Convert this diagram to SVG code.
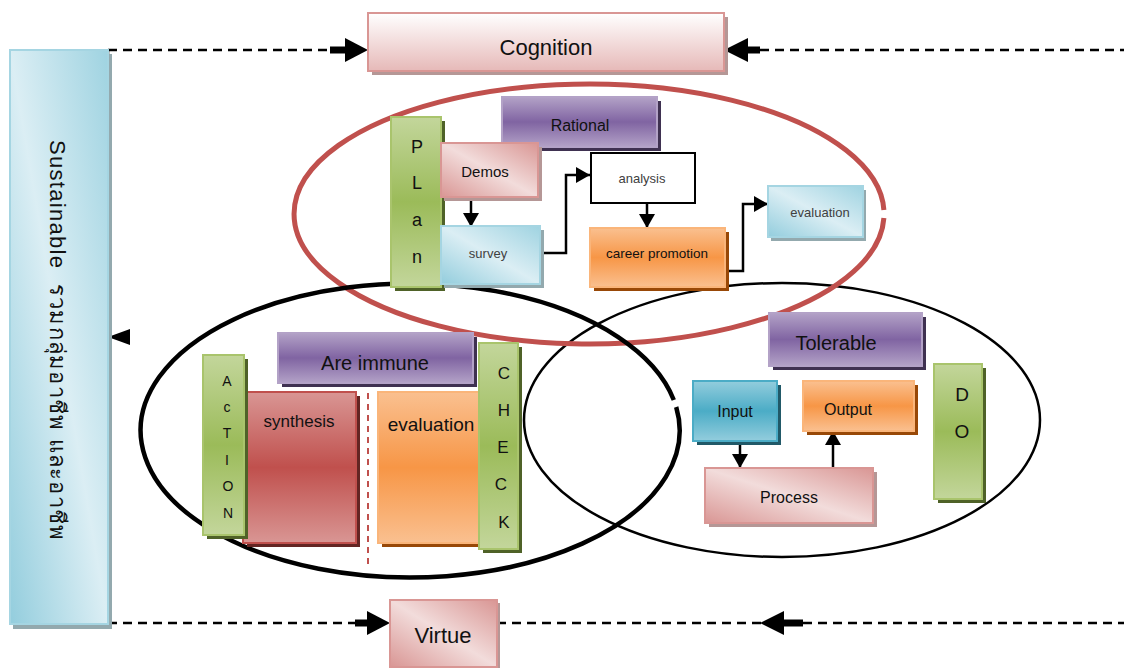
<svg xmlns="http://www.w3.org/2000/svg" width="1124" height="668" viewBox="0 0 1124 668">
<defs>
  <linearGradient id="gGreen" x1="0" y1="0" x2="0" y2="1">
    <stop offset="0" stop-color="#c3d69b"/><stop offset="0.5" stop-color="#9bbb59"/><stop offset="1" stop-color="#c3d69b"/>
  </linearGradient>
  <linearGradient id="gPurple" x1="0" y1="0" x2="0" y2="1">
    <stop offset="0" stop-color="#b3a2c7"/><stop offset="0.5" stop-color="#8064a2"/><stop offset="1" stop-color="#b3a2c7"/>
  </linearGradient>
  <linearGradient id="gOrange" x1="0" y1="0" x2="0" y2="1">
    <stop offset="0" stop-color="#fac090"/><stop offset="0.5" stop-color="#f79646"/><stop offset="1" stop-color="#fac090"/>
  </linearGradient>
  <linearGradient id="gRed" x1="0" y1="0" x2="0" y2="1">
    <stop offset="0" stop-color="#d99694"/><stop offset="0.5" stop-color="#c0504d"/><stop offset="1" stop-color="#d99694"/>
  </linearGradient>
  <linearGradient id="gBlue" x1="0" y1="0" x2="0" y2="1">
    <stop offset="0" stop-color="#93cddd"/><stop offset="0.5" stop-color="#4bacc6"/><stop offset="1" stop-color="#93cddd"/>
  </linearGradient>
  <linearGradient id="gLBlue" x1="0" y1="1" x2="1" y2="0">
    <stop offset="0" stop-color="#93cddd"/><stop offset="0.5" stop-color="#dbeef4"/><stop offset="1" stop-color="#9fd3e1"/>
  </linearGradient>
  <linearGradient id="gPink" x1="0" y1="1" x2="1" y2="0">
    <stop offset="0" stop-color="#d99694"/><stop offset="0.5" stop-color="#f2dcdb"/><stop offset="1" stop-color="#d99694"/>
  </linearGradient>
  <linearGradient id="gCog" x1="0" y1="0" x2="0" y2="1">
    <stop offset="0" stop-color="#ffffff"/><stop offset="1" stop-color="#e6b9b8"/>
  </linearGradient>
  <marker id="ah" markerUnits="userSpaceOnUse" markerWidth="16" markerHeight="16" refX="14" refY="8" orient="auto">
    <path d="M0,0 L14,8 L0,16 z" fill="#000"/>
  </marker>
</defs>
<style>
  text{font-family:"Liberation Sans","Noto Sans","DejaVu Sans",sans-serif;fill:#111;text-anchor:middle;dominant-baseline:central}
  .dash{stroke:#000;stroke-width:2.5;stroke-dasharray:9 6;fill:none}
  .shaft{stroke:#000;stroke-width:7;fill:none}
  .conn{stroke:#000;stroke-width:2.5;fill:none;marker-end:url(#ah)}
  .green{fill:url(#gGreen);stroke:#a9c46c;stroke-width:2}
  .purple{fill:url(#gPurple);stroke:#b3a2c7;stroke-width:2}
  .orange{fill:url(#gOrange);stroke:#fab57a;stroke-width:2}
  .red{fill:url(#gRed);stroke:#c0504d;stroke-width:2}
  .blue{fill:url(#gBlue);stroke:#4bacc6;stroke-width:2}
  .lblue{fill:url(#gLBlue);stroke:#a5d5e2;stroke-width:2}
  .pink{fill:url(#gPink);stroke:#d99694;stroke-width:2}
  .cog{fill:url(#gCog);stroke:#d99694;stroke-width:2}
  .sh-green{fill:#4f6228}
  .sh-purple{fill:#3f3151}
  .sh-orange{fill:#984807}
  .sh-red{fill:#632523}
  .sh-blue{fill:#215968}
  .sh-grey{fill:#93a9ae}
  .sh-pink{fill:#b59796}
  .grey{fill:#404040}
</style>

<!-- ellipses -->
<g id="circles">
  <ellipse cx="782" cy="420" rx="258" ry="137" fill="none" stroke="#000" stroke-width="2.5"/>
  <path d="M883.9,218 A295 130 0 1 1 883.9,210" fill="none" stroke="#c0504d" stroke-width="5"/>
  <path d="M676.2,407 A269.5 147 0 1 1 673.8,400" fill="none" stroke="#000" stroke-width="4.5"/>
</g>

<!-- connectors -->
<g id="connectors">
  <path class="dash" d="M108,50 H330"/>
  <path class="shaft" d="M330,50 H347"/>
  <polygon points="345,38 368,50 345,62" fill="#000"/>
  <path class="dash" d="M760,50 H1124"/>
  <path class="shaft" d="M746,50 H760"/>
  <polygon points="724,50 748,38 748,62" fill="#000"/>
  <path class="dash" d="M108,50 V623"/>
  <polygon points="108,337 130,329 130,345" fill="#000"/>
  <path class="dash" d="M108,623 H355"/>
  <path class="shaft" d="M355,623 H369"/>
  <polygon points="367,611 390,623 367,635" fill="#000"/>
  <path class="dash" d="M497,623 H762"/>
  <path class="shaft" d="M782,623 H803"/>
  <polygon points="760,623 784,611 784,635" fill="#000"/>
  <path class="dash" d="M803,623 H1124"/>

  <path class="conn" d="M471,197 V227"/>
  <path class="conn" d="M540,253 H566 V175 H590"/>
  <path class="conn" d="M647,203 V228"/>
  <path class="conn" d="M725,271 H743 V204 H768"/>
  <path class="conn" d="M740,441 V468"/>
  <path class="conn" d="M833,468 V431"/>
  <path d="M368,393 V566" stroke="#c0504d" stroke-width="2" stroke-dasharray="6 5" fill="none"/>
</g>

<g id="sustainable">
  <rect class="sh-grey" x="13" y="54" width="99" height="575"/>
  <rect class="lblue" x="10" y="50" width="98" height="574"/>
  <text transform="translate(58,0) rotate(90)" font-size="22" style="text-anchor:start"><tspan x="140" y="0" textLength="128">Sustainable</tspan><tspan x="284" y="0" textLength="256">รวมกลุ่มอาชีพ และอาชีพ</tspan></text>
</g>

<g id="cognition">
  <rect class="sh-pink" x="372" y="17" width="356" height="58"/>
  <rect class="cog" x="368" y="13" width="356" height="58"/>
  <text x="546" y="47" font-size="22">Cognition</text>
</g>

<g id="virtue">
  <rect class="sh-pink" x="393" y="603" width="107" height="67"/>
  <rect class="pink" x="390" y="600" width="107" height="67"/>
  <text x="443" y="635" font-size="22">Virtue</text>
</g>

<!-- PLAN -->
<g id="rational">
  <rect class="sh-purple" x="506" y="101" width="155" height="50"/>
  <rect class="purple" x="502" y="97" width="155" height="50"/>
  <text x="580" y="125" font-size="16">Rational</text>
</g>
<g id="plan">
  <rect class="sh-green" x="395" y="121" width="50" height="170"/>
  <rect class="green" x="391" y="117" width="50" height="170"/>
  <text x="417" y="147" font-size="18">P</text>
  <text x="417" y="183" font-size="18">L</text>
  <text x="417" y="220" font-size="18">a</text>
  <text x="417" y="257" font-size="18">n</text>
</g>
<g id="demos">
  <rect class="sh-pink" x="444" y="147" width="98" height="54"/>
  <rect class="pink" x="441" y="143" width="97" height="54"/>
  <text x="485" y="171" font-size="15">Demos</text>
</g>
<g id="survey">
  <rect class="sh-grey" x="444" y="230" width="100" height="58"/>
  <rect class="lblue" x="441" y="226" width="99" height="58"/>
  <text class="grey" x="488" y="253" font-size="13">survey</text>
</g>
<g id="analysis">
  <rect x="591" y="153" width="104" height="50" fill="#fff" stroke="#000" stroke-width="2"/>
  <text class="grey" x="642" y="178" font-size="13">analysis</text>
</g>
<g id="career">
  <rect class="sh-orange" x="594" y="232" width="135" height="59"/>
  <rect class="orange" x="590" y="228" width="135" height="59"/>
  <text x="657" y="253" font-size="13.5">career  promotion</text>
</g>
<g id="evaluation1">
  <rect class="sh-grey" x="771" y="190" width="95" height="51"/>
  <rect class="lblue" x="768" y="186" width="95" height="51"/>
  <text class="grey" x="820" y="212" font-size="13">evaluation</text>
</g>

<!-- ACTION / CHECK -->
<g id="areimmune">
  <rect class="sh-purple" x="282" y="337" width="195" height="50"/>
  <rect class="purple" x="278" y="333" width="195" height="50"/>
  <text x="375" y="363" font-size="20">Are immune</text>
</g>
<g id="synthesis">
  <rect class="sh-red" x="247" y="396" width="113" height="151"/>
  <rect class="red" x="243" y="392" width="113" height="151"/>
  <text x="299" y="421" font-size="17">synthesis</text>
</g>
<g id="action">
  <rect class="sh-green" x="207" y="359" width="41" height="180"/>
  <rect class="green" x="203" y="355" width="41" height="180"/>
  <text x="227" y="381" font-size="14">A</text>
  <text x="227" y="407" font-size="14">c</text>
  <text x="227" y="433" font-size="14">T</text>
  <text x="227" y="460" font-size="14">I</text>
  <text x="228" y="486" font-size="14">O</text>
  <text x="228" y="513" font-size="14">N</text>
</g>
<g id="evaluation2">
  <rect class="sh-orange" x="382" y="396" width="102" height="151"/>
  <rect class="orange" x="378" y="392" width="102" height="151"/>
  <text x="431" y="424" font-size="19">evaluation</text>
</g>
<g id="check">
  <rect class="sh-green" x="483" y="347" width="39" height="206"/>
  <rect class="green" x="479" y="343" width="39" height="206"/>
  <text x="504" y="373" font-size="17">C</text>
  <text x="504" y="410" font-size="17">H</text>
  <text x="503" y="447" font-size="17">E</text>
  <text x="501" y="484" font-size="17">C</text>
  <text x="504" y="522" font-size="17">K</text>
</g>

<!-- DO -->
<g id="tolerable">
  <rect class="sh-purple" x="773" y="317" width="153" height="53"/>
  <rect class="purple" x="769" y="313" width="153" height="53"/>
  <text x="836" y="343" font-size="20">Tolerable</text>
</g>
<g id="input">
  <rect class="sh-blue" x="697" y="385" width="84" height="60"/>
  <rect class="blue" x="693" y="381" width="84" height="60"/>
  <text x="735" y="411" font-size="16">Input</text>
</g>
<g id="output">
  <rect class="sh-orange" x="807" y="385" width="111" height="50"/>
  <rect class="orange" x="803" y="381" width="111" height="50"/>
  <text x="848" y="409" font-size="16">Output</text>
</g>
<g id="process">
  <rect class="sh-pink" x="709" y="472" width="168" height="55"/>
  <rect class="pink" x="705" y="468" width="168" height="55"/>
  <text x="789" y="497" font-size="16">Process</text>
</g>
<g id="do">
  <rect class="sh-green" x="938" y="368" width="48" height="135"/>
  <rect class="green" x="934" y="364" width="48" height="135"/>
  <text x="962" y="394" font-size="19">D</text>
  <text x="962" y="431" font-size="19">O</text>
</g>
</svg>
